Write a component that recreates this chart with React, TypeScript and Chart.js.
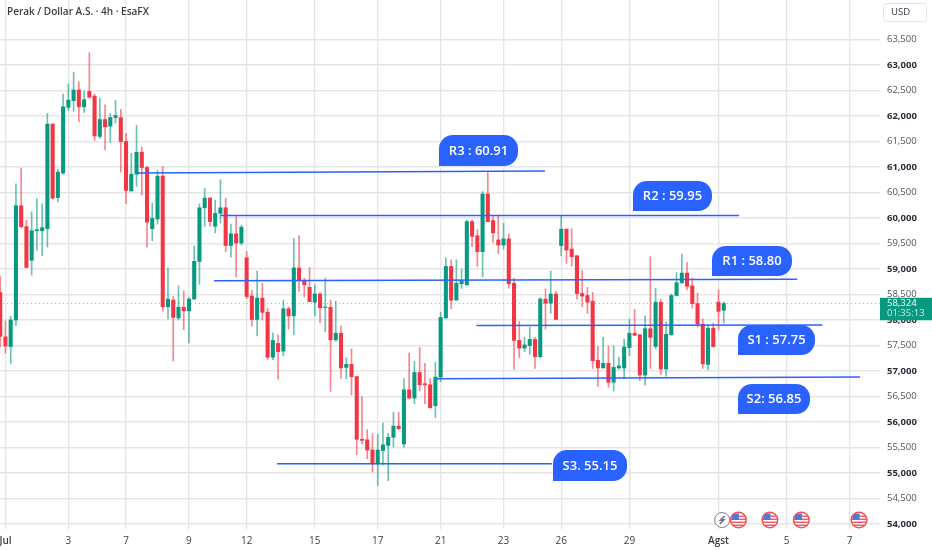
import React, { useEffect, useRef } from "react";
import { Chart, registerables } from "chart.js";

Chart.register(...registerables);

const opens = [58540,57670,57480,58000,60240,59830,59170,59750,59750,59790,61840,60400,60880,62170,62300,62510,62180,62480,62390,61600,61930,61800,61970,61970,61500,60530,60860,61290,60990,59790,59980,60820,58260,58390,58040,58250,58180,58410,59150,60200,60390,59840,60090,60200,59460,59690,59510,59220,58470,58010,58430,58150,57270,57540,57390,58220,58080,59020,58770,58640,58350,58510,58245,58250,57610,57740,57070,57130,56890,55660,55650,55450,55180,55440,55540,55700,55920,55570,56630,56470,56970,56750,56730,56320,56880,58040,59050,58390,58710,58690,59930,59650,59340,60470,59950,59570,59470,59590,58720,57600,57450,57500,57620,57280,58410,58330,58510,59460,59780,59390,59260,58520,58480,58370,57210,57060,57150,56780,57060,57060,57460,57740,57710,56920,57830,57480,58350,57040,57710,58480,58730,58920,58670,58320,57920,57130,57840,58350,58190];
const highs = [58850,57980,58070,60670,60980,59960,60120,60380,60280,62050,61850,60960,62430,62630,62860,62670,62490,63240,62430,62350,62220,62050,62310,62130,61660,61270,61820,61390,61010,60290,60940,61010,59020,58460,58670,58570,58440,59450,60280,60580,60400,60350,60750,60390,59880,60030,59860,59340,58580,58960,58720,58230,57750,57710,58390,58260,59600,59650,58820,59030,58690,58540,58820,58390,58370,57880,57260,57430,56900,56500,55850,55770,55760,55980,55780,56190,56190,56850,57350,57190,57460,57150,56850,57170,58150,59220,59180,59180,59000,59960,59960,59770,60520,60890,60030,60030,59900,59690,58820,57970,57660,57860,57660,58440,58610,58960,58560,60050,59790,59790,59260,58970,58640,58540,57480,57660,57490,57490,57270,57620,58020,58210,57720,58080,59240,58620,58410,57960,58510,58930,59290,59130,58820,58530,58020,57900,57940,58590,58360];
const lows = [57470,57350,57150,57890,59810,59020,58880,59370,59260,59430,60370,60320,60860,62110,62090,61890,62070,62350,61520,61560,61340,61480,61860,60900,60280,60530,60620,60450,59430,59550,59880,58170,58020,57200,58000,57810,57550,58410,58700,59840,59840,59710,59900,59340,59230,58840,59470,58420,57880,57690,58000,57230,57220,56840,57300,57820,57710,58560,58450,58360,58080,57950,57770,56600,57580,56860,56850,56530,55360,55570,55280,55020,54750,55160,54850,55510,55850,55500,56450,56360,56610,56360,56270,56090,56790,58030,58220,58390,58620,58680,59440,59050,58850,59920,59520,59300,59390,58620,57030,57260,57380,57330,57050,57260,57820,58130,58010,59260,59110,59050,58410,58260,58130,57050,56700,57060,56680,56610,57030,56850,57300,57690,56810,56720,57050,57430,56930,56900,57700,58470,58720,58590,58230,57860,57050,57020,57470,57810,57940];
const closes = [57680,57490,58000,60240,59830,59030,59750,59770,59810,61840,60390,60900,62180,62310,62510,62180,62320,62370,61610,61930,61790,61970,62010,61500,60540,60860,61290,60990,59920,59990,60820,58260,58410,58050,58250,58180,58410,59150,60200,60390,59930,60090,60200,59460,59690,59510,59820,58460,58010,58430,58150,57270,57600,57380,58220,58080,59020,58770,58690,58360,58510,58240,58255,57610,57740,57060,57130,56890,55660,55640,55450,55180,55450,55550,55700,55920,55870,56630,56470,56970,56730,56730,56280,56880,58050,59050,58390,58720,58770,59930,59640,59340,60470,59930,59710,59470,59590,58710,57600,57450,57510,57620,57280,58410,58330,58510,58010,59780,59370,59240,58520,58470,58350,57200,57060,57150,56780,57070,57100,57470,57740,57700,56920,57830,57660,58350,57040,57720,58480,58730,58920,58660,58320,57920,57140,57840,57480,58170,58324];

const priceTicks = [54000,54500,55000,55500,56000,56500,57000,57500,58000,58500,59000,59500,60000,60500,61000,61500,62000,62500,63000,63500];
const dateTicks = [1,13,24,36,47,60,72,84,96,107,120,137,150,162];
const dateLabels = ["Jul","3","7","9","12","15","17","21","23","26","29","Agst","5","7"];
const boldDates = ["Jul","Agst"];

const levelNames = ["R3","R2","R1","S1","S2","S3"];
const levelStarts = [26.1,42,40.8,90.8,83.3,52.8];
const levelEnds = [103.9,140.9,152,156.8,164,105.2];
const levelLeft = [60880,60050,58770,57890,56850,55180];
const levelRight = [60920,60050,58800,57900,56880,55180];

const calloutTexts = ["R3 : 60.91","R2 : 59.95","R1 : 58.80","S1 : 57.75","S2: 56.85","S3. 55.15"];
const eventFlags = [140.8,146.8,152.8,163.8];
const eventFlash = [137.7];
const lastPrice = 58324;
const countdown = "01:35:13";
const title = "Perak / Dollar A.S. \u00b7 4h \u00b7 EsaFX";
const currency = "USD";

const GREEN = "#089981";
const RED = "#f23645";
const BLUE = "#2962ff";
const FONT = '"Open Sans", "Noto Sans", sans-serif';

// pixel boxes of the text callouts [left, top, width, height]
const calloutBoxes = [
  [439, 135, 79, 31],
  [633, 181, 79, 30],
  [712, 246, 80, 30],
  [738, 325, 77, 30],
  [738, 384, 72, 30],
  [553, 450, 74, 31],
];

const overlay = {
  id: "overlay",
  afterDraw(chart: any) {
    const { ctx, scales } = chart;
    const x = scales.x;
    const y = scales.y;
    ctx.save();

    // title
    ctx.fillStyle = "#3a3d46";
    ctx.font = `600 10px ${FONT}`;
    ctx.textAlign = "left";
    ctx.textBaseline = "middle";
    ctx.fillText(title, 7, 12);

    // currency box
    ctx.fillStyle = "#ffffff";
    ctx.strokeStyle = "#e3e5ea";
    ctx.lineWidth = 1;
    ctx.beginPath();
    ctx.roundRect(883.5, 3.5, 43, 18, 3);
    ctx.fill();
    ctx.stroke();
    ctx.fillStyle = "#333741";
    ctx.font = `500 9.5px ${FONT}`;
    ctx.fillText(currency, 891, 12.5);

    // callouts
    calloutBoxes.forEach((b, i) => {
      const [l, t, w, h] = b;
      const r = 14;
      ctx.fillStyle = BLUE;
      ctx.beginPath();
      ctx.roundRect(l, t, w, h, [r, r, r, 0]);
      ctx.fill();
      ctx.fillStyle = "#ffffff";
      ctx.font = `600 13px ${FONT}`;
      ctx.textAlign = "center";
      ctx.textBaseline = "middle";
      ctx.fillText(calloutTexts[i], l + w / 2, t + h / 2 + 0.5);
    });

    // events
    const ey = 520;
    eventFlash.forEach((v) => {
      const px = x.getPixelForValue(v);
      ctx.beginPath();
      ctx.arc(px, ey, 7.5, 0, Math.PI * 2);
      ctx.fillStyle = "#ffffff";
      ctx.fill();
      ctx.strokeStyle = "#7b7f96";
      ctx.lineWidth = 1;
      ctx.stroke();
      ctx.strokeStyle = "#5d6078";
      ctx.lineWidth = 1.2;
      ctx.beginPath();
      ctx.moveTo(px + 2.5, ey - 4);
      ctx.lineTo(px - 2, ey + 0.5);
      ctx.lineTo(px + 2, ey - 0.5);
      ctx.lineTo(px - 2.5, ey + 4);
      ctx.stroke();
    });
    eventFlags.forEach((v) => {
      const px = x.getPixelForValue(v);
      ctx.save();
      ctx.beginPath();
      ctx.arc(px, ey, 8.5, 0, Math.PI * 2);
      ctx.fillStyle = "#ffffff";
      ctx.fill();
      ctx.clip();
      for (let s = 0; s < 4; s++) {
        ctx.fillStyle = "#f0606c";
        ctx.fillRect(px - 8.5, ey - 4.5 + s * 3, 17, 1.5);
      }
      ctx.fillStyle = "#4a7bd8";
      ctx.fillRect(px - 6.5, ey - 6.5, 7, 6.5);
      ctx.restore();
      ctx.beginPath();
      ctx.arc(px, ey, 7.8, 0, Math.PI * 2);
      ctx.strokeStyle = "#f2505c";
      ctx.lineWidth = 1.4;
      ctx.stroke();
    });

    // last price tag
    const py = y.getPixelForValue(lastPrice);
    ctx.fillStyle = GREEN;
    ctx.fillRect(880, py - 5.7, 52, 22.5);
    ctx.textAlign = "left";
    ctx.textBaseline = "middle";
    ctx.fillStyle = "#ffffff";
    ctx.font = `500 9.5px ${FONT}`;
    ctx.fillText(lastPrice.toLocaleString("en-US"), 887, py - 0.2);
    ctx.fillStyle = "#cfeae4";
    ctx.font = `400 9.5px ${FONT}`;
    ctx.fillText(countdown, 887, py + 10);
    ctx.restore();
  },
};

export default function App() {
  const ref = useRef<HTMLCanvasElement | null>(null);
  useEffect(() => {
    document.body.style.margin = "0";
    const indices = opens.map((_, i) => i);
    const colors = indices.map((i) => (closes[i] >= opens[i] ? GREEN : RED));
    const wickColors = indices.map((i) =>
      closes[i] >= opens[i] ? "rgba(8,153,129,0.6)" : "rgba(242,54,69,0.6)"
    );
    const levels = levelNames.map((name, i) => ({
      type: "line" as const,
      label: name,
      data: [
        { x: levelStarts[i], y: levelLeft[i] },
        { x: levelEnds[i], y: levelRight[i] },
      ],
      borderColor: BLUE,
      borderWidth: 1.5,
      pointRadius: 0,
      order: 0,
    }));
    const chart = new Chart(ref.current!, {
      type: "bar",
      data: {
        datasets: [
          ...levels,
          {
            type: "bar" as const,
            label: "body",
            data: indices.map((i) => ({ x: i, y: [opens[i], closes[i]] })),
            backgroundColor: colors,
            barThickness: 3.4,
            grouped: false,
            order: 1,
          },
          {
            type: "bar" as const,
            label: "wick",
            data: indices.map((i) => ({ x: i, y: [lows[i], highs[i]] })),
            backgroundColor: wickColors,
            barThickness: 1,
            grouped: false,
            order: 2,
          },
          {
            type: "line" as const,
            label: "last",
            data: [
              { x: -1, y: lastPrice },
              { x: 170, y: lastPrice },
            ],
            borderColor: "rgba(8,153,129,0.55)",
            borderWidth: 1,
            borderDash: [1, 3],
            pointRadius: 0,
            order: 3,
          },
        ] as any,
      },
      options: {
        animation: false,
        responsive: false,
        maintainAspectRatio: false,
        layout: { padding: 0 },
        plugins: { legend: { display: false }, tooltip: { enabled: false } },
        scales: {
          x: {
            type: "linear",
            offset: false,
            min: -0.04,
            max: 167.8,
            border: { display: false },
            grid: { offset: false, color: "#e6e6e6", lineWidth: 1.4, drawTicks: false },
            afterBuildTicks: (axis: any) => {
              axis.ticks = dateTicks.map((value) => ({ value }));
            },
            afterFit: (axis: any) => {
              axis.height = 21;
              axis.paddingLeft = 0;
              axis.paddingRight = 0;
            },
            ticks: {
              autoSkip: false,
              maxRotation: 0,
              padding: 6,
              color: "#3c4049",
              font: (c: any) => {
                const idx = dateTicks.indexOf(c.tick?.value);
                const bold = boldDates.includes(dateLabels[idx]);
                return { family: FONT, size: 10, weight: bold ? 600 : 400 };
              },
              callback: (value: any) => dateLabels[dateTicks.indexOf(Number(value))] ?? "",
            },
          },
          y: {
            position: "right",
            min: 53902,
            max: 64274.5,
            border: { display: false },
            grid: { color: "#e6e6e6", lineWidth: 1.4, drawTicks: false },
            afterBuildTicks: (axis: any) => {
              axis.ticks = priceTicks.map((value) => ({ value }));
            },
            afterFit: (axis: any) => {
              axis.width = 52;
              axis.paddingTop = 0;
              axis.paddingBottom = 0;
            },
            ticks: {
              padding: 7,
              autoSkip: false,
              color: (c: any) => (c.tick?.value % 1000 === 0 ? "#2a2e39" : "#50535e"),
              font: (c: any) => ({
                family: FONT,
                size: 9.5,
                weight: c.tick?.value % 1000 === 0 ? 700 : 400,
              }),
              callback: (value: any) => Number(value).toLocaleString("en-US"),
            },
          },
        },
      } as any,
      plugins: [overlay],
    });
    return () => chart.destroy();
  }, []);
  return (
    <div style={{ position: "fixed", left: 0, top: 0, width: 932, height: 550, background: "#ffffff" }}>
      <canvas ref={ref} width={932} height={550} style={{ display: "block", width: 932, height: 550 }} />
    </div>
  );
}
